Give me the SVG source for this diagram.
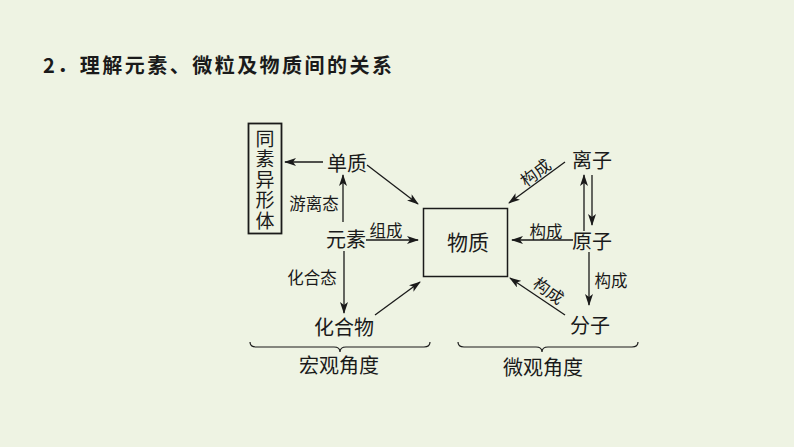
<svg xmlns="http://www.w3.org/2000/svg" width="794" height="447" viewBox="0 0 794 447">
<style>
text{font-family:"Noto Sans CJK SC","Liberation Sans",sans-serif;fill:#1a1a1a;text-anchor:middle;dominant-baseline:central}
.n{font-size:20px}
.v{font-size:19px;writing-mode:vertical-rl;text-anchor:start;letter-spacing:1.5px}
.l{font-size:16.5px}
.t{font-size:20px;font-weight:bold;text-anchor:start;dominant-baseline:auto}
.c line{stroke:#1a1a1a;stroke-width:1.3;marker-end:url(#a)}
.b{fill:none;stroke:#1a1a1a;stroke-width:1.2}
</style>
<defs>
<marker id="a" viewBox="0 0 12 8" refX="11" refY="4" markerWidth="12" markerHeight="8" markerUnits="userSpaceOnUse" orient="auto">
<path d="M0,0 L12,4 L0,8 L3,4 Z" fill="#1a1a1a"/>
</marker>
</defs>
<rect width="794" height="447" fill="#eef3e3"/>
<text class="t" x="43" y="73" textLength="349" lengthAdjust="spacing">2．理解元素、微粒及物质间的关系</text>
<g id="tongsu">
<rect x="248.5" y="123.5" width="33" height="110" fill="none" stroke="#1a1a1a" stroke-width="1.8"/>
<text class="v" x="265" y="129">同素异形体</text>
</g>
<g id="danzhi"><text class="n" x="347" y="162">单质</text></g>
<g id="yuansu"><text class="n" x="346" y="238">元素</text></g>
<g id="huahewu"><text class="n" x="344" y="326">化合物</text></g>
<g id="wuzhi">
<rect x="423.5" y="208.5" width="84" height="68" fill="none" stroke="#1a1a1a" stroke-width="1.5"/>
<text class="n" x="468" y="241" style="font-size:21px">物质</text>
</g>
<g id="lizi"><text class="n" x="592" y="159">离子</text></g>
<g id="yuanzi"><text class="n" x="592" y="240">原子</text></g>
<g id="fenzi"><text class="n" x="590" y="324">分子</text></g>
<g id="hongguan">
<path class="b" d="M250,342 Q250,347 256,347 L334,347 Q340,347 340,352 Q340,347 346,347 L424,347 Q430,347 430,342"/>
<text class="n" x="339" y="364">宏观角度</text>
</g>
<g id="weiguan">
<path class="b" d="M458,342 Q458,347 464,347 L536,347 Q542,347 542,352 Q542,347 548,347 L632,347 Q638,347 638,342"/>
<text class="n" x="543" y="366">微观角度</text>
</g>
<g class="c" id="connectors">
<line x1="323" y1="162" x2="285" y2="162"/>
<line x1="343" y1="222" x2="343" y2="175"/>
<line x1="344" y1="251" x2="344" y2="313"/>
<line x1="367" y1="165" x2="418" y2="204"/>
<line x1="366" y1="240" x2="418" y2="240"/>
<line x1="375" y1="315" x2="420" y2="282"/>
<line x1="565" y1="162" x2="509" y2="203"/>
<line x1="584" y1="231" x2="584" y2="175"/>
<line x1="592" y1="175" x2="592" y2="225"/>
<line x1="573" y1="240" x2="512" y2="240"/>
<line x1="589" y1="252" x2="589" y2="305"/>
<line x1="565" y1="315" x2="510" y2="278"/>
</g>
<g id="labels">
<text class="l" x="314" y="203">游离态</text>
<text class="l" x="312" y="277">化合态</text>
<text class="l" x="386" y="230">组成</text>
<text class="l" x="535" y="172" transform="rotate(-37 535 172)">构成</text>
<text class="l" x="546" y="231">构成</text>
<text class="l" x="611" y="280">构成</text>
<text class="l" x="549" y="290" transform="rotate(35 549 290)">构成</text>
</g>
</svg>
